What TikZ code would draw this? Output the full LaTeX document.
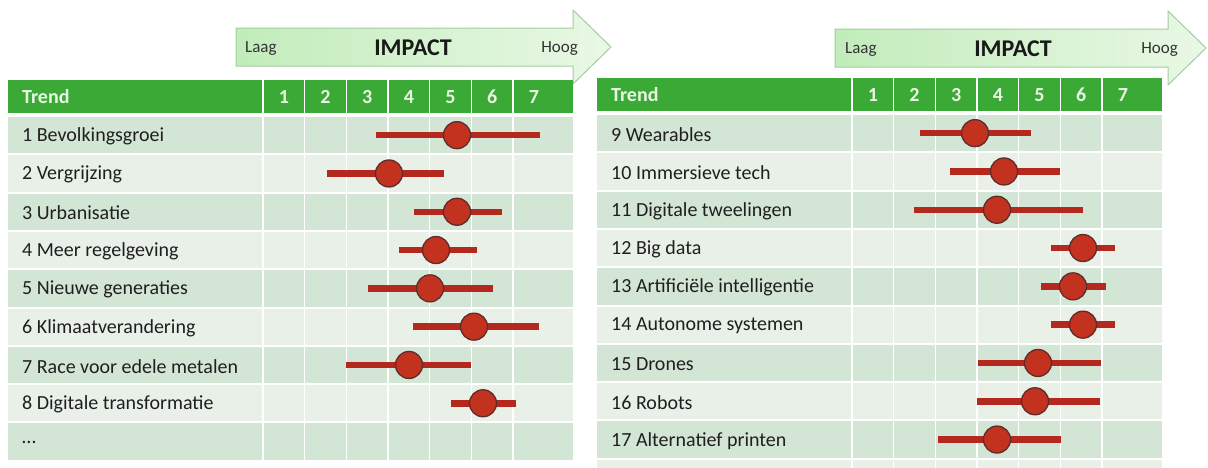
\documentclass[tikz,border=0pt]{standalone}
\usepackage{fontspec}
\setmainfont{Carlito}
\usepackage{tikz}
\usetikzlibrary{positioning}

\definecolor{hdrgreen}{HTML}{3BA936}
\definecolor{hdrtext}{HTML}{EAF6E4}
\definecolor{rowdark}{HTML}{D3E5D4}
\definecolor{rowlight}{HTML}{E8F0E8}
\definecolor{barred}{HTML}{B4281D}
\definecolor{dotred}{HTML}{C3321F}
\definecolor{dotedge}{HTML}{5E2C2C}
\definecolor{arrowedge}{HTML}{A3CDA0}
\definecolor{arrowleft}{HTML}{C2ECBB}
\definecolor{arrowright}{HTML}{E9F8E5}

\tikzset{
  gridline/.style={draw=white, line width=1.3pt},
  hdrlabel/.style={anchor=west, inner sep=0pt, text=hdrtext, font=\bfseries\fontsize{20}{24}\selectfont},
  colnum/.style={inner sep=0pt, text=hdrtext, font=\bfseries\fontsize{20}{24}\selectfont},
  trendlabel/.style={anchor=west, inner sep=0pt, text=black!88, font=\fontsize{20}{24}\selectfont},
  bar/.style={draw=barred, line width=6.5pt},
  dot/.style={circle, fill=dotred, draw=dotedge, line width=1.3pt, minimum size=27pt, inner sep=0pt},
  arrowbody/.style={draw=arrowedge, line width=1pt, left color=arrowleft, right color=arrowright},
  arrowword/.style={inner sep=0pt, text=black!80, font=\fontsize{17}{20}\selectfont},
  impactword/.style={inner sep=0pt, text=black!90, font=\bfseries\fontsize{24}{28}\selectfont},
}

% one table in local coordinates: #1 rows, #2 bottom of grid lines, #3 name prefix
\newcommand{\impactgrid}[3]{%
  \fill[hdrgreen] (8,80) rectangle (573,113);
  \foreach \r in {1,...,#1}{
    \pgfmathsetmacro{\rtop}{117+(\r-1)*38.3}
    \ifodd\r \def\rcol{rowdark}\else \def\rcol{rowlight}\fi
    \fill[\rcol] (8,\rtop) rectangle (573,{\rtop+36.3});
  }
  % column lines
  \foreach \k in {0,...,6}
    \draw[gridline] ({263+\k*41.67},80) -- ({263+\k*41.67},#2);
  % header
  \node[hdrlabel] (#3trend) at (22,97) {Trend};
  \foreach \k in {1,...,7}
    \node[colnum] (#3num\k) at ({263+(\k-0.5)*41.67},97) {\k};
}

\begin{document}
\begin{tikzpicture}[x=1pt,y=-1pt]
  \useasboundingbox (0,0) rectangle (1208,467);
  \clip (0,0) rectangle (1208,467);

  % impact arrows
  \draw[arrowbody] (236,28) -- (573,28) -- (573,10) -- (611,47)
    -- (573,84) -- (573,66) -- (236,66) -- cycle;
  \node[arrowword, anchor=west] (llaag) at (245,49) {Laag};
  \node[impactword] (limpact) at (413,48) {IMPACT};
  \node[arrowword, anchor=east] (lhoog) at (578,49) {Hoog};

  \draw[arrowbody] (835,29) -- (1168,29) -- (1168,11) -- (1206,48)
    -- (1168,85) -- (1168,67) -- (835,67) -- cycle;
  \node[arrowword, anchor=west] (rlaag) at (845,50) {Laag};
  \node[impactword] (rimpact) at (1013,49) {IMPACT};
  \node[arrowword, anchor=east] (rhoog) at (1178,50) {Hoog};

  % left table
  \begin{scope}
    \impactgrid{9}{459.7}{l}
    \foreach \r/\lab in {1/1 Bevolkingsgroei, 2/2 Vergrijzing, 3/3 Urbanisatie,
        4/4 Meer regelgeving, 5/5 Nieuwe generaties, 6/6 Klimaatverandering,
        7/7 Race voor edele metalen, 8/8 Digitale transformatie, 9/\ldots}
      \node[trendlabel] (l\r) at (22,{136.5+(\r-1)*38.3}) {\lab};
    \foreach \r/\xlo/\xmid/\xhi in {1/376/457/540, 2/327/389/444, 3/414/457/502,
        4/399/436/477, 5/368/430/493, 6/413/474/539, 7/346/409/471, 8/451/483/516}{
      \coordinate (llo\r) at (\xlo,{135.15+(\r-1)*38.3});
      \coordinate (lhi\r) at (\xhi,{135.15+(\r-1)*38.3});
      \draw[bar] (llo\r) -- (lhi\r);
      \node[dot] (ldot\r) at (\xmid,{135.15+(\r-1)*38.3}) {};
    }
  \end{scope}

  % right table
  \begin{scope}[shift={(589,-2)}]
    \impactgrid{10}{472}{r}
    \foreach \r/\lab in {1/9 Wearables, 2/10 Immersieve tech, 3/11 Digitale tweelingen,
        4/12 Big data, 5/13 Artificiële intelligentie, 6/14 Autonome systemen,
        7/15 Drones, 8/16 Robots, 9/17 Alternatief printen}
      \node[trendlabel] (r\r) at (22,{136.5+(\r-1)*38.3}) {\lab};
    \foreach \r/\xlo/\xmid/\xhi in {1/331/386/442, 2/361/415/471, 3/325/408/494,
        4/462/494/526, 5/452/484/517, 6/462/494/526, 7/389/449/512, 8/388/446/511,
        9/349/408/472}{
      \coordinate (rlo\r) at (\xlo,{135.15+(\r-1)*38.3});
      \coordinate (rhi\r) at (\xhi,{135.15+(\r-1)*38.3});
      \draw[bar] (rlo\r) -- (rhi\r);
      \node[dot] (rdot\r) at (\xmid,{135.15+(\r-1)*38.3}) {};
    }
  \end{scope}
\end{tikzpicture}
\end{document}
